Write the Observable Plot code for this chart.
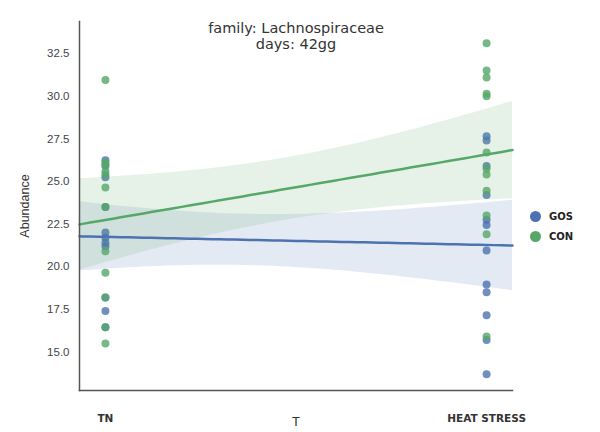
<!DOCTYPE html>
<html><head><meta charset="utf-8">
<script src="https://cdn.jsdelivr.net/npm/d3@7"></script>
<script src="https://cdn.jsdelivr.net/npm/@observablehq/plot@0.6"></script>
<style>
body{margin:0;background:#fff}
#wrap{position:relative;width:600px;height:432px}
#legend{position:absolute;left:530px;top:206px;font:bold 10px "DejaVu Sans",sans-serif;color:#222}
#legend .row{display:flex;align-items:center;height:20px}
#legend .sw{width:11px;height:11px;border-radius:50%;margin-right:8px}
</style></head>
<body><div id="wrap"></div>
<script>
// ---- data ----
const categories = ["TN", "HEAT STRESS"];
const groups = ["GOS", "CON"];
const groupColors = ["#4c72b0", "#55a868"];
const tnGOS = [26.25, 25.9, 25.25, 23.5, 22.0, 21.7, 21.4, 21.2, 18.2, 17.4, 16.45];
const tnCON = [30.95, 26.1, 26.0, 25.6, 25.4, 24.65, 23.5, 20.9, 19.65, 18.2, 16.45, 15.5];
const hsGOS = [27.65, 27.4, 25.9, 24.2, 22.75, 22.45, 20.95, 18.95, 18.5, 17.15, 15.7, 13.7];
const hsCON = [33.1, 31.5, 31.1, 30.15, 30.0, 26.7, 25.75, 25.4, 24.45, 23.0, 21.9, 15.9];
const yTicks = [15, 17.5, 20, 22.5, 25, 27.5, 30, 32.5];
const titleText = "family: Lachnospiraceae\ndays: 42gg";

// ---- build table ----
const series = {GOS: [tnGOS, hsGOS], CON: [tnCON, hsCON]};
const points = [];
for (const g of groups) series[g].forEach((vals, i) => vals.forEach(v => points.push({g, x: i, y: v})));

const xDomain = [-0.068, 1.068];

// regression line per group with a 95% band (normal approx. of a bootstrap CI),
// extended over the whole axis range
const bands = [], lines = [];
for (const g of groups) {
  const [v0, v1] = series[g];
  const m0 = d3.mean(v0), m1 = d3.mean(v1);
  const var0 = d3.variance(v0) * (v0.length - 1) / v0.length / v0.length;
  const var1 = d3.variance(v1) * (v1.length - 1) / v1.length / v1.length;
  const xs = d3.ticks(xDomain[0], xDomain[1], 60).concat(xDomain).sort((p, q) => p - q);
  for (const x of xs) {
    const yh = m0 + (m1 - m0) * x;
    const se = Math.sqrt((1 - x) ** 2 * var0 + x ** 2 * var1);
    bands.push({g, x, lo: yh - 1.96 * se, hi: yh + 1.96 * se});
    lines.push({g, x, y: yh});
  }
}

const font = "'Liberation Sans', Arial, sans-serif";
const marks = [];
for (const g of groups) {
  marks.push(Plot.dot(points.filter(d => d.g === g), {x: "x", y: "y", fill: "g", r: 4, fillOpacity: 0.8}));
  marks.push(Plot.areaY(bands.filter(d => d.g === g), {x: "x", y1: "lo", y2: "hi", fill: "g", fillOpacity: 0.15}));
}
for (const g of groups) marks.push(Plot.lineY(lines.filter(d => d.g === g), {x: "x", y: "y", stroke: "g", strokeWidth: 2.5}));

const chart = Plot.plot({
  width: 600, height: 432,
  marginLeft: 79, marginRight: 88, marginTop: 21, marginBottom: 42,
  style: {fontFamily: font, fontSize: "11px", color: "#444", background: "#fff"},
  x: {domain: xDomain},
  y: {domain: [12.74, 34.38]},
  color: {domain: groups, range: groupColors},
  marks: [
    ...marks,
    Plot.frame({anchor: "left", stroke: "#555", strokeWidth: 1.5}),
    Plot.frame({anchor: "bottom", stroke: "#555", strokeWidth: 1.5}),
    Plot.axisY({ticks: yTicks, tickSize: 0, tickPadding: 10, tickFormat: d3.format(".1f"), fontSize: 11.5, label: null}),
    Plot.text(["Abundance"], {frameAnchor: "left", textAnchor: "middle", rotate: -90, dx: -55, fontSize: 12.5, fill: "#333"}),
    Plot.axisX({ticks: [0, 1], tickFormat: i => categories[i], tickSize: 0, tickPadding: 24, fontSize: 10.5,
      fontWeight: "bold", fontFamily: "'DejaVu Sans', sans-serif", fill: "#333", label: null}),
    Plot.text(["T"], {frameAnchor: "bottom", dy: 35, fontSize: 13, fill: "#333"}),
    Plot.text([titleText], {frameAnchor: "top", lineAnchor: "top", dy: 0, fontSize: 14.5, lineHeight: 1.12,
      fill: "#333", fontFamily: "'DejaVu Sans', sans-serif"})
  ]
});
const wrap = document.getElementById("wrap");
wrap.appendChild(chart);
const leg = document.createElement("div");
leg.id = "legend";
leg.innerHTML = groups.map((g, i) => `<div class="row"><span class="sw" style="background:${groupColors[i]}"></span>${g}</div>`).join("");
wrap.appendChild(leg);
</script>
</body></html>
